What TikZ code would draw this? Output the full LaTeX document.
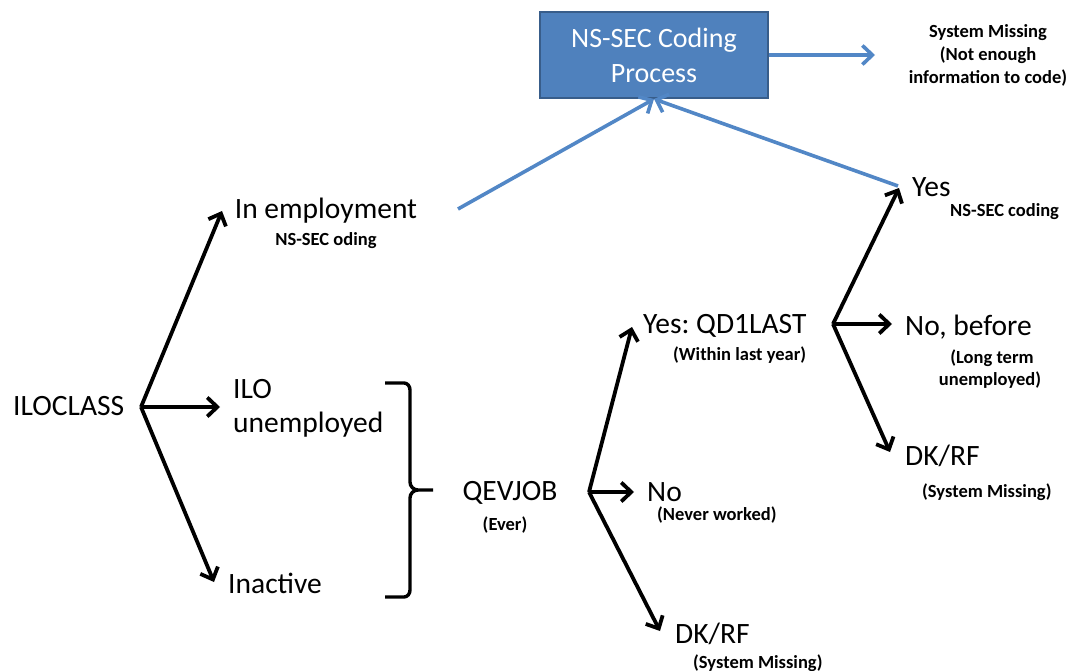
\documentclass[tikz,border=0pt]{standalone}
\usepackage{fontspec}
\setmainfont{Carlito}
\usetikzlibrary{arrows.meta}
\definecolor{boxblue}{HTML}{4F81BD}
\definecolor{boxedge}{HTML}{385D8A}
\definecolor{lineblue}{HTML}{5287C6}
\frenchspacing
\tikzset{
  bigtxt/.style={inner sep=0pt, font=\frenchspacing\fontsize{29.5}{35}\selectfont},
  smalltxt/.style={inner sep=0pt, font=\frenchspacing\bfseries\fontsize{18.5}{23}\selectfont},
  blackarrow/.style={draw=black, line width=3.8pt, -{Straight Barb[length=10pt,width=19pt,line width=3.8pt]}},
  bluearrow/.style={draw=lineblue, line width=3.6pt, -{Straight Barb[length=10pt,width=19pt,line width=3.6pt]}},
  bracketline/.style={draw=black, line width=3.4pt, line join=round},
  procbox/.style={draw=boxedge, line width=2pt, fill=boxblue, text=white, align=center,
    minimum width=228pt, minimum height=86pt, inner sep=0pt, font=\fontsize{28}{35}\selectfont}
}
\begin{document}
\begin{tikzpicture}[x=1pt,y=-1pt]
\useasboundingbox (0,0) rectangle (1079,671);

% process box and top-right text
\node[procbox] (box) at (654,55) {NS-SEC Coding\\Process};
\coordinate (smtip) at (875,55);
\node[smalltxt, anchor=base] (sm1) at (988,38) {System Missing};
\node[smalltxt, anchor=base] (sm2) at (988,61) {(Not enough};
\node[smalltxt, anchor=base] (sm3) at (988,84) {information to code)};
\draw[bluearrow] (box.east) -- (smtip);

% ILOCLASS level
\node[bigtxt, anchor=base west] (ilo) at (13,415) {ILOCLASS};
\coordinate (v1) at (141,407);
\coordinate (t1a) at (222,211);
\coordinate (t1b) at (220,407);
\coordinate (t1c) at (214,582);
\draw[blackarrow] (v1) -- (t1a);
\draw[blackarrow] (v1) -- (t1b);
\draw[blackarrow] (v1) -- (t1c);

\node[bigtxt, anchor=base] (emp) at (326,219) {In employment};
\node[smalltxt, anchor=base] (empsub) at (326,245) {NS-SEC oding};
\node[bigtxt, anchor=base west] (unemp1) at (233,398) {ILO};
\node[bigtxt, anchor=base west] (unemp2) at (233,432) {unemployed};
\node[bigtxt, anchor=base west] (inact) at (228,593) {Inactive};

% bracket
\draw[bracketline] (385,383) -- (404,383) to[out=0,in=90] (410,390) -- (410,482)
  to[out=-90,in=180] (418,490) -- (433,490);
\draw[bracketline] (418,490) to[out=180,in=90] (410,498) -- (410,590)
  to[out=-90,in=0] (404,597) -- (385,597);

% QEVJOB level
\node[bigtxt, anchor=base] (qev) at (510,500) {QEVJOB};
\node[smalltxt, anchor=base] (qevsub) at (505,530) {(Ever)};
\coordinate (v2) at (589,492);
\coordinate (t2a) at (632,327);
\coordinate (t2b) at (634,492);
\coordinate (t2c) at (660,631);
\draw[blackarrow] (v2) -- (t2a);
\draw[blackarrow] (v2) -- (t2b);
\draw[blackarrow] (v2) -- (t2c);

\node[bigtxt, anchor=base west] (qd) at (643,333) {Yes: QD1LAST};
\node[smalltxt, anchor=base west] (qdsub) at (673,360) {(Within last year)};
\node[bigtxt, anchor=base west] (no1) at (647,501) {No};
\node[smalltxt, anchor=base west] (no1sub) at (657,520) {(Never worked)};
\node[bigtxt, anchor=base west] (dk1) at (675,643) {DK/RF};
\node[smalltxt, anchor=base west] (dk1sub) at (693,668) {(System Missing)};

% QD1LAST level
\coordinate (v3) at (833,324);
\coordinate (t3a) at (899,188);
\coordinate (t3b) at (892,324);
\coordinate (t3c) at (890,452);
\draw[blackarrow] (v3) -- (t3a);
\draw[blackarrow] (v3) -- (t3b);
\draw[blackarrow] (v3) -- (t3c);

\node[bigtxt, anchor=base west] (yes) at (912,197) {Yes};
\node[smalltxt, anchor=base west] (yessub) at (950,217) {NS-SEC coding};
\node[bigtxt, anchor=base west] (nob) at (905,335) {No, before};
\node[smalltxt, anchor=base] (nobsub1) at (992,363) {(Long term};
\node[smalltxt, anchor=base] (nobsub2) at (990,385) {unemployed)};
\node[bigtxt, anchor=base west] (dk2) at (905,465) {DK/RF};
\node[smalltxt, anchor=base west] (dk2sub) at (922,497) {(System Missing)};

% blue connectors to the box
\coordinate (empend) at (458,209);
\coordinate (yesend) at (898,186);
\draw[bluearrow] (empend) -- (box.south);
\draw[bluearrow] (yesend) -- (box.south);
\end{tikzpicture}
\end{document}
